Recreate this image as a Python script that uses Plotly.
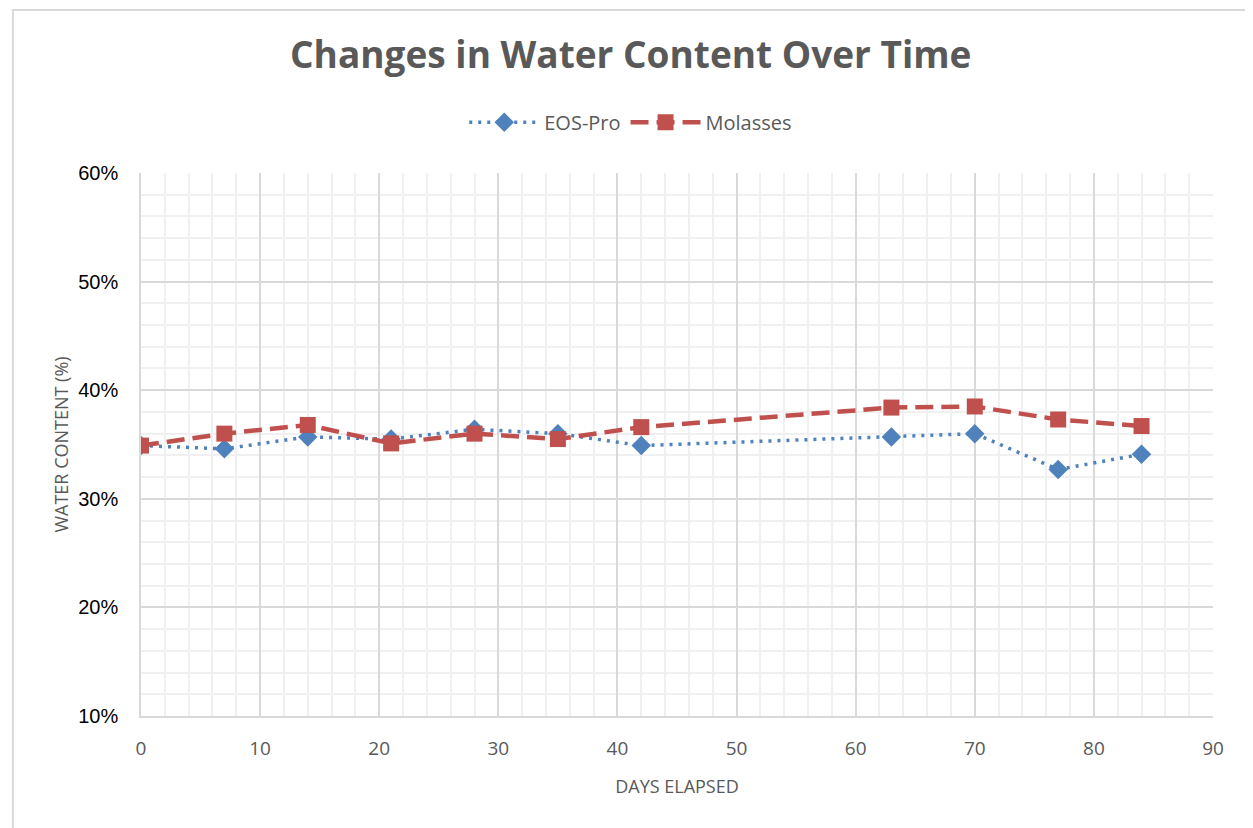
import plotly.graph_objects as go

days = [0, 7, 14, 21, 28, 35, 42, 63, 70, 77, 84]
eos_pro = [34.9, 34.6, 35.7, 35.5, 36.4, 36.0, 34.9, 35.7, 36.0, 32.7, 34.1]
molasses = [34.9, 36.0, 36.8, 35.1, 36.0, 35.5, 36.6, 38.4, 38.5, 37.3, 36.7]

y_ticks = [10, 20, 30, 40, 50, 60]
y_labels = [f"{v}%" for v in y_ticks]
x_ticks = [0, 10, 20, 30, 40, 50, 60, 70, 80, 90]

fig = go.Figure()
fig.add_trace(go.Scatter(
    x=days, y=eos_pro, name="EOS-Pro", mode="lines+markers",
    line=dict(color="#4f81bd", width=3.5, dash="3px,6px"),
    marker=dict(symbol="diamond", size=15, color="#4f81bd"),
))
fig.add_trace(go.Scatter(
    x=days, y=molasses, name="Molasses", mode="lines+markers",
    line=dict(color="#c0504d", width=4.5, dash="18px,8px"),
    marker=dict(symbol="square", size=16, color="#c0504d"),
))

fig.update_layout(
    width=1253, height=828,
    margin=dict(l=133, r=48, t=165, b=120),
    paper_bgcolor="white", plot_bgcolor="white",
    font=dict(family="'Open Sans', sans-serif", color="#595959"),
    title=dict(text="<b>Changes in Water Content Over Time</b>", x=0.497, xref="container",
               xanchor="center", y=0.943, yref="container", yanchor="middle",
               font=dict(size=37, color="#595959", family="'Open Sans', sans-serif")),
    legend=dict(orientation="h", x=0.497, xref="container", xanchor="center",
                y=0.862, yref="container", yanchor="middle",
                font=dict(size=20, color="#595959"), itemwidth=70),
    showlegend=True,
    xaxis=dict(range=[0, 90], tickvals=x_ticks, showgrid=True, gridcolor="#d9d9d9", gridwidth=1.5,
               minor=dict(dtick=2, showgrid=True, gridcolor="#f0f0f0", gridwidth=1.5),
               zeroline=False, showline=True, linecolor="#d9d9d9", linewidth=1.5, mirror=False,
               tickfont=dict(size=19, color="#595959", family="'Open Sans', sans-serif"), ticks="",
               ticklabelstandoff=14,
               title=dict(text="DAYS ELAPSED", font=dict(size=18, color="#595959"), standoff=21)),
    yaxis=dict(range=[10, 60], tickvals=y_ticks, ticktext=y_labels, showgrid=True,
               gridcolor="#d9d9d9", gridwidth=1.5,
               minor=dict(dtick=2, showgrid=True, gridcolor="#f0f0f0", gridwidth=1.5),
               zeroline=False, showline=True, linecolor="#d9d9d9", linewidth=1.5,
               tickfont=dict(size=20, color="#000000", family="'Liberation Sans', Arial, sans-serif"),
               ticks="", ticklabelstandoff=17,
               title=dict(text="WATER CONTENT (%)", font=dict(size=18, color="#595959"), standoff=5)),
    shapes=[dict(type="rect", xref="paper", yref="paper", x0=-0.1195, x1=1.05, y0=-0.35, y1=1.3,
                 line=dict(color="#d9d9d9", width=2), fillcolor="rgba(0,0,0,0)", layer="below")],
)

fig.write_html("out.html")
